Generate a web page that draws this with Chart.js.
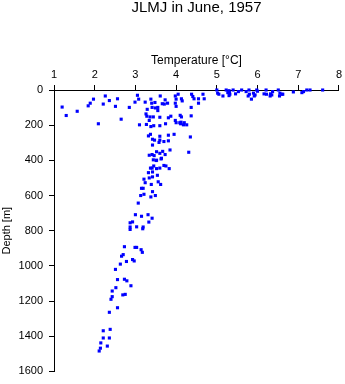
<!DOCTYPE html>
<html>
<head>
<meta charset="utf-8">
<script src="https://cdn.jsdelivr.net/npm/chart.js@4"></script>
<style>
  html, body { margin: 0; padding: 0; background: #fff; }
  #profil { display: block; }
</style>
</head>
<body>
<canvas id="profil" width="345" height="384"></canvas>
<script>
// valeurs (température en °C, profondeur en m)
const temperature = [
  1.20, 1.30, 1.57, 1.84, 1.89, 1.97, 2.09, 2.21, 2.26, 2.36, 2.51, 2.56, 2.65, 2.85, 2.99, 3.05, 3.08, 3.10,
  3.24, 3.29, 3.26, 3.28, 3.34, 3.27, 3.38, 3.40, 3.48, 3.61, 3.41, 3.49, 3.55, 3.55, 3.36, 3.44, 3.60, 3.73,
  3.66, 3.71, 3.79, 3.87, 3.81, 3.38, 3.45, 3.60, 3.74,
  3.98, 4.00, 4.05, 4.13, 4.15, 3.98, 4.00, 4.37, 4.38, 4.41, 4.44, 4.55, 4.69, 4.66, 4.55, 4.37, 4.10, 4.13,
  4.00, 4.09, 4.11, 4.18, 4.26, 3.98, 4.35, 4.31, 4.12, 4.20,
  3.95, 3.81, 3.60, 3.37, 3.32, 3.47, 3.42, 3.60, 3.70, 3.81, 3.58, 3.42, 3.52, 3.60, 3.67, 3.73, 3.85, 3.34,
  3.41, 3.46, 3.44, 3.51, 3.64, 3.52, 3.63,
  3.32, 3.42, 3.41, 3.37, 3.45, 3.52, 3.60, 3.70, 3.75, 3.83, 3.54, 3.21, 3.34, 3.42, 3.24, 3.39, 3.56, 3.62,
  3.15, 3.19, 3.13, 3.21, 3.38, 3.42, 3.49, 3.07, 3.00, 3.15, 3.31, 3.41, 3.33, 2.87, 2.93, 2.87, 2.87, 3.03,
  3.19, 3.18,
  2.73, 2.99, 3.03, 3.14, 3.17, 2.70, 2.66, 2.93, 2.97, 2.78, 2.63, 2.51, 2.56, 2.73, 2.79, 2.89, 2.52, 2.43,
  2.43, 2.40, 2.69, 2.75, 2.56, 2.36, 2.38, 2.21, 2.21, 2.36, 2.15, 2.31, 2.14, 2.11,
  5.00, 5.02, 5.05, 5.15, 5.23, 5.30, 5.27, 5.31, 5.30, 5.40, 5.46, 5.53, 5.61, 5.72, 5.79, 5.77, 5.85, 5.90,
  5.94, 5.92, 5.98, 6.00, 6.16, 6.21, 6.32, 6.35, 6.31, 6.37, 6.51, 6.55, 6.60, 6.54, 6.88, 7.09, 7.13, 7.21,
  7.29, 7.60, 5.32, 5.80, 6.22, 6.62
];
const profondeur = [
  97, 145, 121, 90, 75, 52, 192, 80, 34, 60, 93, 50, 166, 99, 69, 30, 52, 198,
  69, 110, 136, 149, 173, 196, 52, 75, 71, 34, 99, 102, 99, 117, 153, 153, 155, 56,
  78, 80, 75, 149, 158, 208, 203, 203, 192,
  34, 52, 24, 50, 62, 75, 93, 99, 24, 37, 50, 50, 50, 24, 75, 147, 144, 153,
  186, 186, 192, 198, 198, 173, 267, 354, 183, 186,
  252, 257, 263, 252, 261, 285, 280, 285, 293, 289, 298, 313, 351, 360, 349, 367, 341, 371,
  367, 373, 397, 401, 388, 399, 392,
  470, 466, 444, 444, 432, 447, 444, 429, 432, 447, 485, 507, 500, 494, 527, 537, 522, 537,
  559, 559, 600, 593, 608, 578, 600, 643, 709, 718, 709, 729, 751, 755, 750, 779, 793, 778,
  779, 789,
  891, 895, 895, 908, 923, 936, 945, 964, 972, 975, 990, 1020, 1078, 1076, 1085, 1113, 1124, 1143,
  1175, 1190, 1165, 1162, 1238, 1264, 1361, 1369, 1410, 1410, 1438, 1456, 1468, 1484,
  0, 18, 24, 34, 0, 4, 15, 15, 32, 0, 22, 9, 0, 9, 0, 34, 52, 18,
  28, 34, 0, 7, 22, 0, 22, 28, 34, 9, 0, 18, 24, 34, 11, 15, 9, 0,
  0, 0, 24, 24, 24, 24
];
const graduationsX = [1, 2, 3, 4, 5, 6, 7, 8];
const graduationsY = [0, 200, 400, 600, 800, 1000, 1200, 1400, 1600];

const police = '"Liberation Sans", Arial, sans-serif';

const points = temperature.map((t, i) => ({ x: t, y: profondeur[i] }));

const ctx = document.getElementById('profil').getContext('2d');

new Chart(ctx, {
  type: 'scatter',
  data: {
    datasets: [{
      data: points,
      pointStyle: 'rect',
      pointRadius: 2.2,
      pointHoverRadius: 2.2,
      borderWidth: 0,
      backgroundColor: '#0000ff',
      clip: false
    }]
  },
  options: {
    responsive: false,
    animation: false,
    events: [],
    layout: { padding: { left: 0, top: 0, right: 6, bottom: 8 } },
    plugins: {
      legend: { display: false },
      tooltip: { enabled: false },
      title: {
        display: true,
        text: 'JLMJ in June, 1957',
        fullSize: false,
        color: '#000',
        font: { family: police, size: 15, weight: 'normal', lineHeight: '16px' },
        padding: { top: 0, bottom: 0 }
      }
    },
    scales: {
      x: {
        type: 'linear',
        position: 'top',
        min: graduationsX[0],
        max: graduationsX[graduationsX.length - 1],
        afterBuildTicks: s => { s.ticks = graduationsX.map(v => ({ value: v })); },
        afterFit: s => { s.height = 74; },
        ticks: { color: '#000', padding: 3, font: { family: police, size: 11 }, callback: v => String(v) },
        grid: { drawOnChartArea: false, color: '#000', tickColor: '#000', tickLength: 5 },
        border: { color: '#000', width: 1 },
        title: {
          display: true,
          text: 'Temperature [°C]',
          color: '#000',
          font: { family: police, size: 12, lineHeight: '13px' },
          padding: { top: 38, bottom: 0 }
        }
      },
      y: {
        type: 'linear',
        reverse: true,
        min: graduationsY[0],
        max: graduationsY[graduationsY.length - 1],
        afterBuildTicks: s => { s.ticks = graduationsY.map(v => ({ value: v })); },
        afterFit: s => { s.width = 54; },
        ticks: { color: '#000', padding: 6, font: { family: police, size: 11 }, callback: v => String(v) },
        grid: { drawOnChartArea: false, color: '#000', tickColor: '#000', tickLength: 5 },
        border: { color: '#000', width: 1 },
        title: {
          display: true,
          text: 'Depth [m]',
          color: '#000',
          font: { family: police, size: 11, lineHeight: '13px' },
          padding: { top: 0, bottom: 0 }
        }
      }
    }
  }
});
</script>
</body>
</html>
